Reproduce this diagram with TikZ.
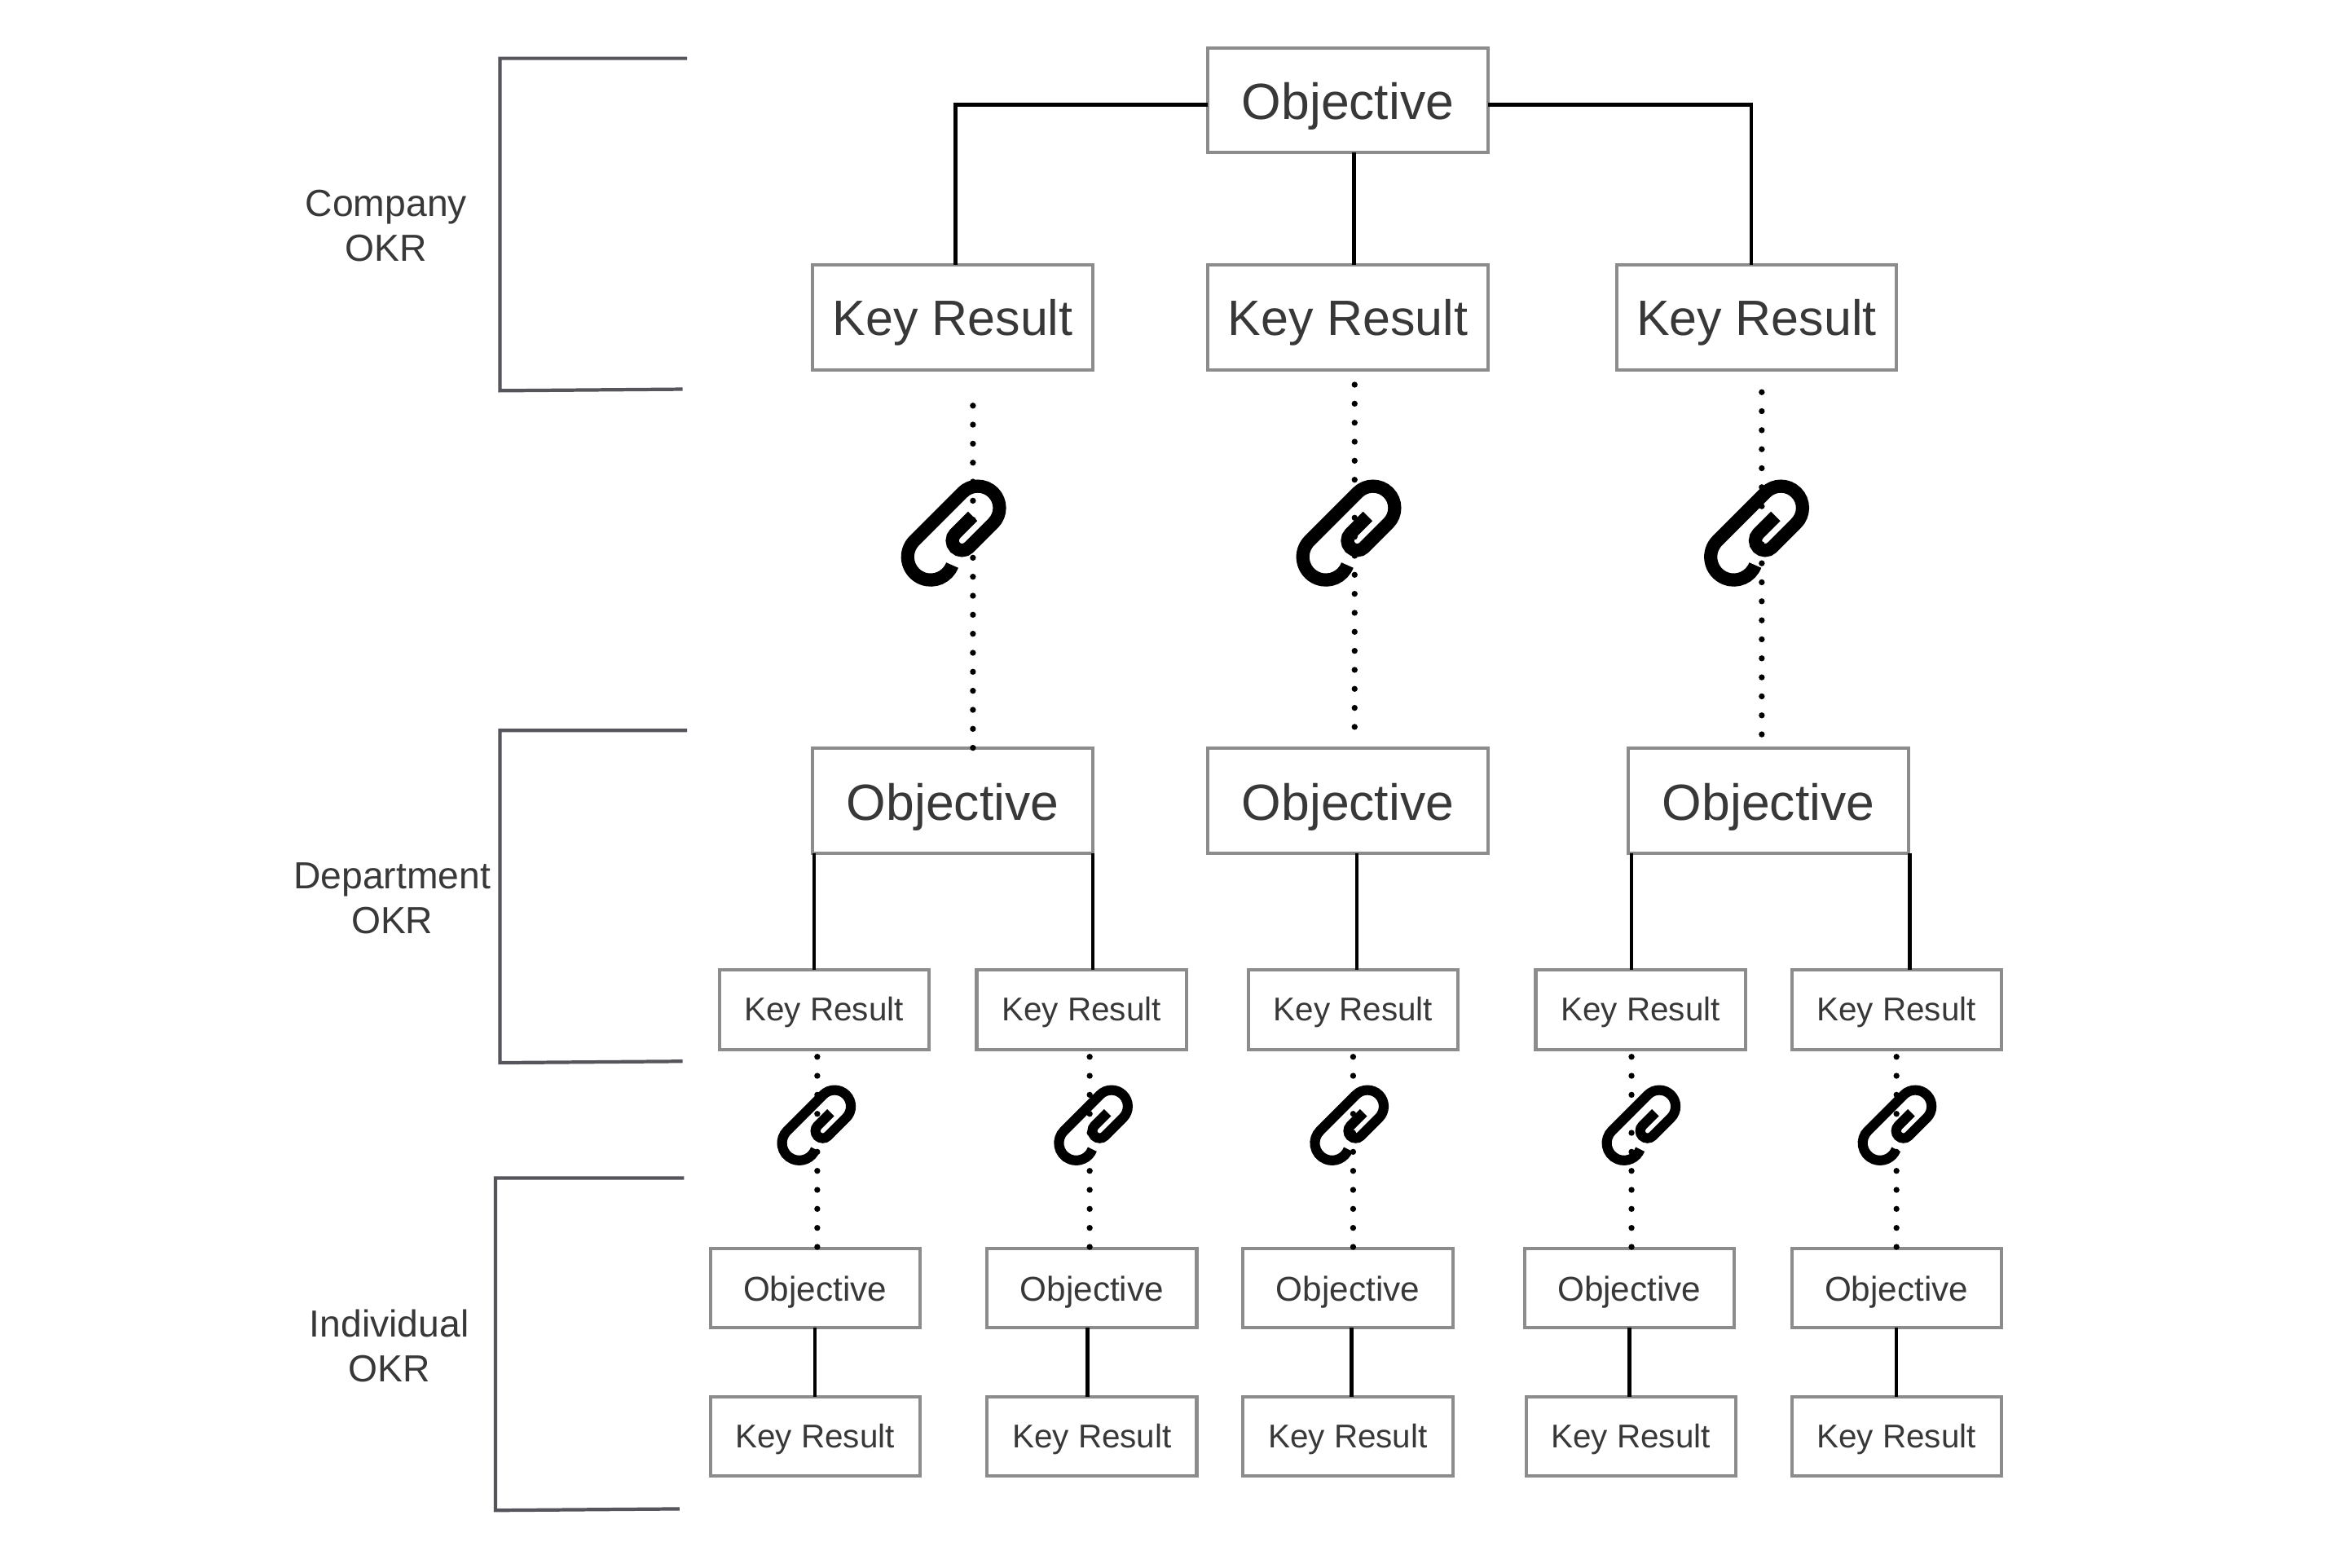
\documentclass[tikz,border=0pt]{standalone}
\usepackage{fontspec}
\setmainfont{Liberation Sans}
\usetikzlibrary{positioning}
\definecolor{boxgrey}{HTML}{8C8C8C}
\definecolor{bracketgrey}{HTML}{55555B}
\definecolor{textgrey}{HTML}{383838}
\tikzstyle{bigbox} = [rectangle, minimum width=93.5pt, minimum height=35pt, inner sep=0pt, outer sep=0pt, text centered, text height=13pt, text depth=0pt, draw=boxgrey, line width=1.1pt, text=textgrey, font=\fontsize{17}{20}\selectfont]
\tikzstyle{bigkey} = [bigbox, text height=12pt, font=\fontsize{16.6}{20}\selectfont]
\tikzstyle{smallbox} = [rectangle, minimum width=70pt, minimum height=26.5pt, inner sep=0pt, outer sep=0pt, text centered, text height=8.5pt, text depth=0pt, draw=boxgrey, line width=1.1pt, text=textgrey, font=\fontsize{11.5}{14}\selectfont]
\tikzstyle{smallkey} = [smallbox, text height=7.5pt, font=\fontsize{11}{14}\selectfont]
\tikzstyle{sidelabel} = [align=center, inner sep=0pt, text=textgrey, font=\fontsize{12.6}{15}\selectfont]
\tikzstyle{link} = [black, line width=1.25pt]
\tikzstyle{bracket} = [bracketgrey, line width=1.15pt]
\tikzstyle{dots} = [black, line width=2pt, line cap=round, dash pattern=on 0pt off 6.35pt]
\tikzset{pics/paperclip/.style={code={
  \draw[black, line width=#1*4.4pt, x=1pt, y=1pt, scale=#1*0.5, rotate=45, shift={(-21.4,-0.6)}]
    (-66:15.4) arc (-66:-270:15.4) -- (45.4,15.4) arc (90:-90:14.5) -- (22.5,-13.6) arc (-90:-270:6.5) -- (39,-0.6);
}}}

\begin{document}
\begin{tikzpicture}[x=0.5pt,y=-0.5pt]
\useasboundingbox (0,0) rectangle (1568,1047);

% company level
\node (obj) [bigbox] at (900.5,67) {Objective};
\node (ckr2) [bigkey, below=37.5pt of obj] {Key Result};
\node (ckr1) [bigkey, left=38.5pt of ckr2] {Key Result};
\node (ckr3) [bigkey, right=43pt of ckr2] {Key Result};

% department level
\node (dobj1) [bigbox, below=126.5pt of ckr1] {Objective};
\node (dobj2) [bigbox, below=126.5pt of ckr2] {Objective};
\node (dobj3) [bigbox, right=47pt of dobj2] {Objective};
\node (dkr1) [smallkey, below=39pt of dobj1, xshift=-43pt] {Key Result};
\node (dkr2) [smallkey, right=16pt of dkr1] {Key Result};
\node (dkr3) [smallkey, below=39pt of dobj2, xshift=1.75pt] {Key Result};
\node (dkr4) [smallkey, below=39pt of dobj3, xshift=-42.75pt] {Key Result};
\node (dkr5) [smallkey, right=15.5pt of dkr4] {Key Result};

% individual level
\node (iobj1) [smallbox, below=66.5pt of dkr1, xshift=-3pt] {Objective};
\node (iobj2) [smallbox, below=66.5pt of dkr2, xshift=3.5pt] {Objective};
\node (iobj3) [smallbox, below=66.5pt of dkr3, xshift=-1.75pt] {Objective};
\node (iobj4) [smallbox, below=66.5pt of dkr4, xshift=-3.75pt] {Objective};
\node (iobj5) [smallbox, below=66.5pt of dkr5] {Objective};
\node (ikr1) [smallkey, below=23pt of iobj1] {Key Result};
\node (ikr2) [smallkey, below=23pt of iobj2] {Key Result};
\node (ikr3) [smallkey, below=23pt of iobj3] {Key Result};
\node (ikr4) [smallkey, below=23pt of iobj4, xshift=0.5pt] {Key Result};
\node (ikr5) [smallkey, below=23pt of iobj5] {Key Result};

% side labels and brackets
\node (company) [sidelabel] at (258,151) {Company\\OKR};
\node (department) [sidelabel] at (262,600) {Department\\OKR};
\node (individual) [sidelabel] at (260,899) {Individual\\OKR};
\draw [bracket] (459,39) -- (334,39) -- (334,261) -- (456,260);
\draw [bracket] (459,488) -- (334,488) -- (334,710) -- (456,709);
\draw [bracket] (457,787) -- (331,787) -- (331,1009) -- (454,1008);

% solid links
\draw [link] ([yshift=-1.5pt]obj.west) -| ([xshift=1pt]ckr1.north);
\draw [link] ([yshift=-1.5pt]obj.east) -| ([xshift=-1.75pt]ckr3.north);
\draw [link] ([xshift=2pt]obj.south) -- ([xshift=2pt]ckr2.north);
\draw [link] ([xshift=0.5pt]dobj1.south west) -- ([xshift=0.5pt]dobj1.south west |- dkr1.north);
\draw [link] (dobj1.south east) -- (dobj1.south east |- dkr2.north);
\draw [link] ([xshift=3pt]dobj2.south) -- ([xshift=3pt]dobj2.south |- dkr3.north);
\draw [link] ([xshift=1pt]dobj3.south west) -- ([xshift=1pt]dobj3.south west |- dkr4.north);
\draw [link] ([xshift=0.5pt]dobj3.south east) -- ([xshift=0.5pt]dobj3.south east |- dkr5.north);
\draw [link] (iobj1) -- (ikr1);
\draw [link] ([xshift=-1.5pt]iobj2.south) -- ([xshift=-1.5pt]ikr2.north);
\draw [link] ([xshift=1.25pt]iobj3.south) -- ([xshift=1.25pt]iobj3.south |- ikr3.north);
\draw [link] (iobj4) -- (iobj4 |- ikr4.north);
\draw [link] (iobj5) -- (ikr5);

% dotted links between levels
\coordinate (top1) at (650,271);
\coordinate (top2) at (905,257);
\coordinate (top3) at (1177,262);
\coordinate (end2) at (905,487);
\coordinate (end3) at (1177,491);
\draw [dots] (top1) -- (top1 |- dobj1.north);
\draw [dots] (top2) -- (end2);
\draw [dots] (top3) -- (end3);
\coordinate (low1) at (546,706);
\coordinate (low2) at (728,706);
\coordinate (low3) at (904,706);
\coordinate (low4) at (1090,706);
\coordinate (low5) at (1267,706);
\draw [dots] (low1) -- (low1 |- iobj1.north);
\draw [dots] (low2) -- (low2 |- iobj2.north);
\draw [dots] (low3) -- (low3 |- iobj3.north);
\draw [dots] (low4) -- (low4 |- iobj4.north);
\draw [dots] (low5) -- (low5 |- iobj5.north);

% paperclips on the dotted links
\pic (clip1) at (636.5,356.5) {paperclip=1};
\pic (clip2) at (900.5,356.5) {paperclip=1};
\pic (clip3) at (1173,356.5) {paperclip=1};
\pic (clip4) at (545,752) {paperclip=0.75};
\pic (clip5) at (730,752) {paperclip=0.75};
\pic (clip6) at (901,752) {paperclip=0.75};
\pic (clip7) at (1096,752) {paperclip=0.75};
\pic (clip8) at (1267,752) {paperclip=0.75};
\end{tikzpicture}
\end{document}
